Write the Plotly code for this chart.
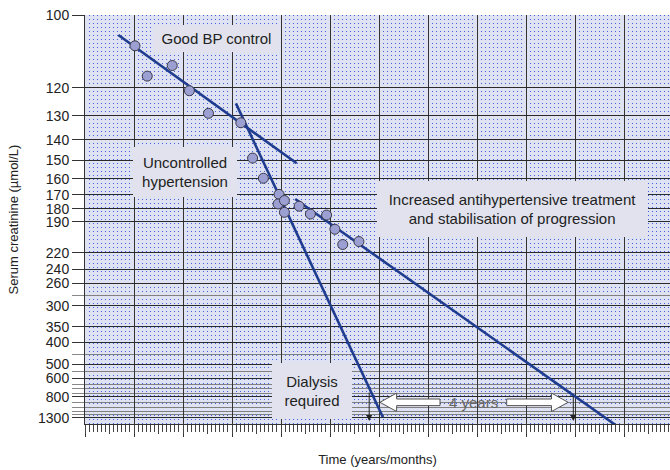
import plotly.graph_objects as go

# ---------------- data ----------------
time_years = [1.02, 1.27, 1.78, 2.13, 2.52, 3.18, 3.42, 3.64, 3.96, 3.94,
              4.07, 4.07, 4.37, 4.60, 4.93, 5.10, 5.26, 5.59]
creatinine = [107.6, 116.3, 113.1, 121.0, 129.1, 132.8, 148.8, 159.8, 169.8, 176.4,
              174.0, 182.6, 178.0, 183.9, 184.7, 196.5, 211.0, 208.0]

good_bp_time = [0.68, 4.32]
good_bp_creat = [104.8, 151.5]
uncontrolled_time = [3.08, 6.08]
uncontrolled_creat = [125.4, 1285]
treated_time = [4.29, 10.90]
treated_creat = [172.9, 1838]

labeled_ticks = [100, 120, 130, 140, 150, 160, 170, 180, 190, 220, 240, 260,
                 300, 350, 400, 500, 600, 800, 1300]
unlabeled_lines = [280, 450, 550, 650, 700, 750, 900, 1000, 1100, 1200]

dialysis_time_uncontrolled = 5.80
dialysis_time_treated = 9.965
dialysis_start_creat = [724, 776]
dialysis_tip_creat = 1443
gap_arrow_from = 6.02
gap_arrow_to = 9.86
gap_arrow_creat = 891

# reciprocal scale: plotted value = 1000 / creatinine
def rec(c):
    return 1000.0 / c

def recs(cs):
    return [rec(c) for c in cs]

FONT = "Liberation Sans, Arial, sans-serif"
LINE_COL = "#1f3c8f"

fig = go.Figure()
for tx, cy in [(good_bp_time, good_bp_creat), (uncontrolled_time, uncontrolled_creat),
               (treated_time, treated_creat)]:
    fig.add_trace(go.Scatter(x=tx, y=recs(cy), mode="lines",
                             line=dict(color=LINE_COL, width=2.6),
                             hoverinfo="skip", showlegend=False))
fig.add_trace(go.Scatter(x=time_years, y=recs(creatinine), mode="markers",
                         marker=dict(size=10, color="#9c9fd2",
                                     line=dict(color="#3a3a4a", width=1)),
                         showlegend=False, cliponaxis=False))

# overlay axis for half-year ticks
fig.add_trace(go.Scatter(x=[0], y=[rec(1000)], xaxis="x2", mode="markers",
                         marker=dict(opacity=0), showlegend=False, hoverinfo="skip"))

# ----------- double white arrow "4 years" ------------
yc = rec(gap_arrow_creat)
hl, hh, sh = 0.34, 0.211, 0.0756
text_gap_left, text_gap_right = 7.245, 8.606

def arrow_path(x_tip, x_tail):
    d = 1 if x_tail > x_tip else -1
    xb = x_tip + d * hl
    pts = [(x_tip, yc), (xb, yc + hh), (xb, yc + sh), (x_tail, yc + sh),
           (x_tail, yc - sh), (xb, yc - sh), (xb, yc - hh)]
    return "M " + " L ".join(f"{px},{py}" for px, py in pts) + " Z"

for tip, tail in [(gap_arrow_from, text_gap_left), (gap_arrow_to, text_gap_right)]:
    fig.add_shape(type="path", path=arrow_path(tip, tail), xref="x", yref="y",
                  fillcolor="white", line=dict(color="#555", width=1), layer="above")

annotations = []
def box(x, y, text, w, h):
    annotations.append(dict(x=x, y=y, xref="x", yref="y", text=text, showarrow=False,
                            bgcolor="#e1e2ee", width=w, height=h, borderpad=0,
                            borderwidth=0, align="center", valign="middle",
                            font=dict(family=FONT, size=15, color="#222")))

box(2.68, rec(1000 / 9.47), "Good BP control", 125, 27)
box(2.041, rec(1000 / 6.40), "Uncontrolled<br>hypertension", 104, 50)
box(8.724, rec(1000 / 5.564), "Increased antihypertensive treatment<br>and stabilisation of progression", 271, 56)
box(4.633, rec(1000 / 1.381), "Dialysis<br>required", 80, 56)

annotations.append(dict(x=(text_gap_left + text_gap_right) / 2, y=yc, xref="x", yref="y",
                        text="4 years", showarrow=False,
                        font=dict(family=FONT, size=15, color="#666")))

for tx, c0 in [(dialysis_time_uncontrolled, dialysis_start_creat[0]),
               (dialysis_time_treated, dialysis_start_creat[1])]:
    annotations.append(dict(x=tx, y=rec(dialysis_tip_creat), ax=tx, ay=rec(c0),
                            xref="x", yref="y", axref="x", ayref="y", text="",
                            showarrow=True, arrowhead=2, arrowsize=1.2, arrowwidth=1,
                            arrowcolor="#222"))

fig.update_layout(
    width=670, height=470,
    margin=dict(l=85, r=0, t=15, b=46, autoexpand=False),
    paper_bgcolor="white", plot_bgcolor="#dfe2f3",
    font=dict(family=FONT, color="#222"),
    annotations=annotations,
    hovermode=False,
    xaxis=dict(range=[0, 585 / 49], dtick=1, tick0=0, showticklabels=False,
               automargin=False,
               ticks="outside", ticklen=12, tickcolor="#333", tickwidth=1,
               showgrid=True, gridcolor="#333", gridwidth=1,
               showline=True, linecolor="#333", linewidth=1, zeroline=False,
               minor=dict(dtick=1 / 12, tick0=0, ticks="outside", ticklen=7,
                          tickcolor="#444", tickwidth=1, showgrid=True,
                          gridcolor="#3f60d8", gridwidth=1.2, griddash="1px,3px"),
               title=dict(text="Time (years/months)", standoff=18,
                          font=dict(family=FONT, size=13, color="#222"))),
    xaxis2=dict(overlaying="x", matches="x", anchor="y", side="bottom",
                automargin=False,
                dtick=0.5, tick0=0, showticklabels=False, ticks="outside",
                ticklen=9, tickcolor="#444", tickwidth=1, showgrid=False,
                zeroline=False, showline=False),
    yaxis=dict(range=[0.625, 10], tickmode="array", tickvals=recs(labeled_ticks),
               automargin=False, ticklabeloverflow="allow",
               ticktext=[str(v) for v in labeled_ticks], ticks="outside", ticklen=12,
               tickcolor="#333", tickwidth=1, showgrid=True, gridcolor="#2a2a2a",
               gridwidth=1, showline=True, linecolor="#333", linewidth=1,
               zeroline=False, tickfont=dict(family=FONT, size=14, color="#222"),
               minor=dict(tickmode="array", tickvals=recs(unlabeled_lines),
                          ticks="outside", ticklen=12, tickcolor="#888",
                          showgrid=True, gridcolor="#808080", gridwidth=1),
               title=dict(text="Serum creatinine (µmol/L)", standoff=16,
                          font=dict(family=FONT, size=13, color="#222"))),
)

# remove the page's default 8px body margin so the figure fills the window
fig.write_html("out.html", config={"displayModeBar": False},
               post_script="document.body.style.margin='0';")
